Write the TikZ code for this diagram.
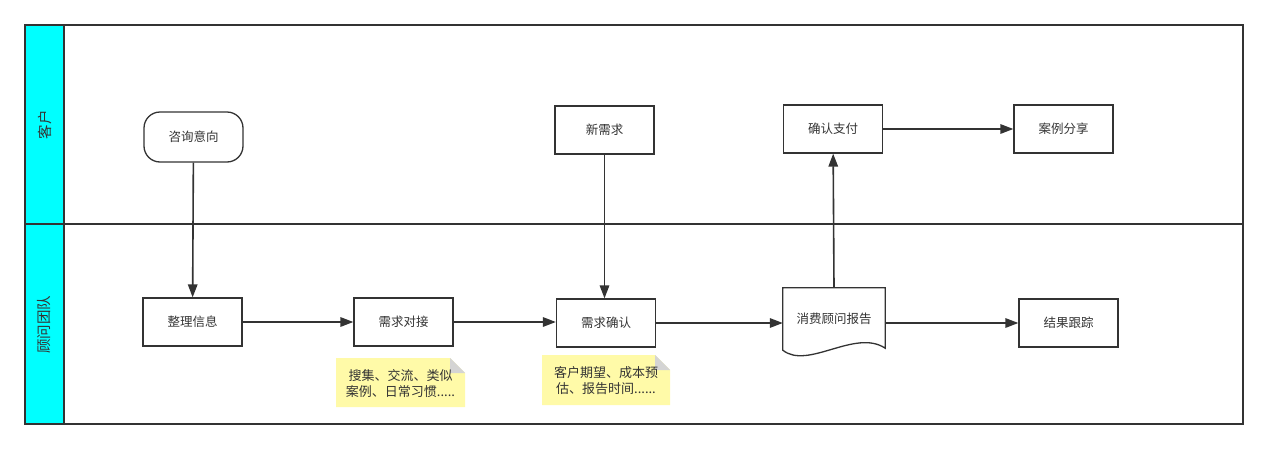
\documentclass[tikz,border=0pt]{standalone}
\usepackage{fontspec}
\newfontfamily\cjk{Noto Sans CJK SC}
\usepackage{tikz}
\usetikzlibrary{arrows.meta, calc}

\definecolor{linegray}{HTML}{333333}
\definecolor{lanecyan}{HTML}{00FFFF}
\definecolor{noteyellow}{HTML}{FFFAA8}
\definecolor{foldgray}{HTML}{D4D4D4}

\begin{document}
\begin{tikzpicture}[
  x=1pt, y=-1pt,
  >={Triangle[length=13pt,width=9.5pt]},
  font=\cjk\fontsize{12.5}{15}\selectfont,
  text=linegray,
  box/.style={
    rectangle, draw=linegray, line width=1.3pt,
    minimum width=99pt, minimum height=48pt,
    inner sep=1pt, align=center
  },
  pill/.style={box, rounded corners=16pt, minimum height=50pt},
  docbox/.style={rectangle, minimum width=102pt, minimum height=62pt, align=center},
  notetext/.style={align=center, font=\cjk\fontsize{13}{16}\selectfont, inner sep=0pt},
  lane/.style={draw=linegray, line width=2pt},
  link/.style={->, draw=linegray, line width=1.6pt},
]
\useasboundingbox (0,0) rectangle (1268,450);

% --- Pool and lanes ---
\fill[lanecyan] (25,25) rectangle (64,424);
\draw[lane] (25,25) rectangle (1243,424);
\draw[lane] (64,25) -- (64,424);
\draw[lane] (25,224) -- (1243,224);
\node[rotate=90, font=\cjk\fontsize{14.5}{18}\selectfont] (LKH) at (44.5,124.5) {客户};
\node[rotate=90, font=\cjk\fontsize{14.5}{18}\selectfont] (LGW) at (44.5,324.5) {顾问团队};

% --- Customer lane ---
\node[pill] (ASK) at (193.5,137) {咨询意向};
\node[box] (NEW) at (604.5,130) {新需求};
\node[box] (PAY) at (833,129) {确认支付};
\node[box] (CASE) at (1063.5,129) {案例分享};

% --- Consultant lane ---
\node[box] (SORT) at (192.5,322) {整理信息};
\node[box] (MEET) at (403.5,322) {需求对接};
\node[box] (CONF) at (606,323) {需求确认};
\node[docbox] (REP) at (834,319) {消费顾问报告};
\draw[draw=linegray, line width=1.3pt, fill=white]
  (REP.north west) -- (REP.north east) -- ($(REP.south east)+(0,-2)$)
  .. controls ($(REP.south east)+(-30,-22)$) and ($(REP.south west)+(25,20)$) .. (REP.south west)
  -- cycle;
\node at (REP) {消费顾问报告};
\node[box] (TRACK) at (1068.5,323) {结果跟踪};

% --- Notes ---
\fill[noteyellow] (336,358) -- (450,358) -- (465,373) -- (465,407) -- (336,407) -- cycle;
\fill[foldgray] (450,358) -- (450,373) -- (465,373) -- cycle;
\node[notetext] (N1) at (400.5,384) {搜集、交流、类似\\案例、日常习惯.....};
\fill[noteyellow] (542,355) -- (655,355) -- (670,370) -- (670,405) -- (542,405) -- cycle;
\fill[foldgray] (655,355) -- (655,370) -- (670,370) -- cycle;
\node[notetext] (N2) at (606,381) {客户期望、成本预\\估、报告时间......};

% --- Arrows ---
\draw[link] (ASK) -- (SORT);
\draw[link] (NEW) -- (NEW |- CONF.north);
\draw[link] (SORT) -- (MEET);
\draw[link] (MEET.east) -- (MEET.east -| CONF.west);
\draw[link] (CONF.east) -- (CONF.east -| REP.west);
\draw[link] (REP.north) -- (PAY);
\draw[link] (PAY) -- (CASE);
\draw[link] (REP.east |- TRACK) -- (TRACK);

\end{tikzpicture}
\end{document}
